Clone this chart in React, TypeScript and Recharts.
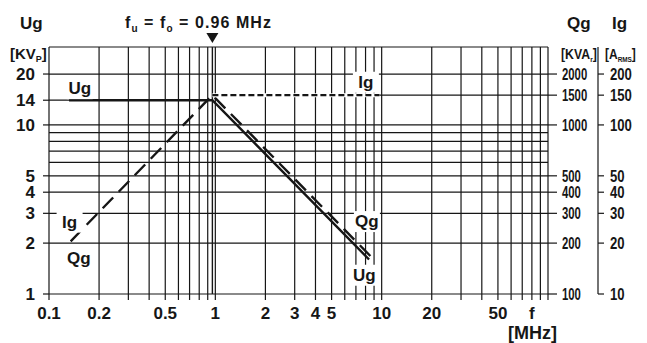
import { Line, LineChart, ReferenceDot, ReferenceLine, XAxis, YAxis } from "recharts";

const FONT = '"Liberation Sans", Arial, Helvetica, sans-serif';
const INK = "#161616";

// frequency axis [MHz], log 0.1 .. 100
const gridFreq = [
  0.1, 0.2, 0.3, 0.4, 0.5, 0.6, 0.7, 0.8, 0.9, 1, 2, 3, 4, 5, 6, 7, 8, 9, 10, 20, 30, 40, 50, 60, 70,
  80, 90, 100,
];
const freqLabelValues = [0.1, 0.2, 0.5, 1, 2, 3, 4, 5, 10, 20, 50, 80];
const freqLabelText = ["0.1", "0.2", "0.5", "1", "2", "3", "4", "5", "10", "20", "50", "f"];

// left axis Ug [kVp], right axes Qg [kVAr] and Ig [Arms]
const ugDomain = [1, 28.9];
const qgDomain = [100, 2890];
const igDomain = [10, 289];
const gridUg = [1, 2, 3, 4, 5, 6, 7, 8, 9, 10, 20, 28.9];
const ugTicks = [1, 2, 3, 4, 5, 10, 14, 20];
const qgTicks = [100, 200, 300, 400, 500, 1000, 1500, 2000];
const igTicks = [10, 20, 30, 40, 50, 100, 150, 200];

const f0 = 0.96;

// curves
const ugFreq = [0.132, 0.96, 8.4];
const ugValue = [14, 14, 1.6];
const qgFreq = [0.135, 0.96, 8.7];
const qgValue = [205, 1500, 165];
const igFreq = [0.96, 9.7];
const igValue = [150, 150];

// curve name tags
const tagText = ["Ug", "Ig", "Qg", "Ug", "Ig", "Qg"];
const tagFreq = [0.153, 8.04, 8.15, 7.87, 0.133, 0.151];
const tagUg = [16.5, 18.0, 2.7, 1.3, 2.68, 1.63];

const toPoints = (xs: number[], ys: number[]) => xs.map((f, i) => ({ f, v: ys[i] }));

const XTick = (props: any) => {
  const { x, y, payload } = props;
  const i = freqLabelValues.findIndex((v) => Math.abs(v - payload.value) < 1e-9);
  if (i < 0) return <g />;
  return (
    <text x={x} y={y + 17} textAnchor="middle" fontFamily={FONT} fontWeight={700} fontSize={17} fill={INK}>
      {freqLabelText[i]}
    </text>
  );
};

const LeftTick = (props: any) => {
  const { x, y, payload } = props;
  return (
    <text x={x} y={y + 6} textAnchor="end" fontFamily={FONT} fontWeight={700} fontSize={17} fill={INK}>
      {payload.value}
    </text>
  );
};

const RightTick = (perChar: number) => (props: any) => {
  const { x, y, payload } = props;
  const s = String(payload.value);
  return (
    <text
      x={x}
      y={y + 6}
      textAnchor="start"
      fontFamily={FONT}
      fontWeight={700}
      fontSize={16}
      fill={INK}
      textLength={s.length * perChar}
      lengthAdjust="spacingAndGlyphs"
    >
      {s}
    </text>
  );
};

const Tag = (text: string) => (props: any) => {
  const { cx, cy } = props;
  const w = text.length * 11;
  return (
    <g>
      <rect x={cx - w / 2 - 2} y={cy - 10} width={w + 4} height={21} fill="#fff" />
      <text x={cx} y={cy + 6} textAnchor="middle" fontFamily={FONT} fontWeight={700} fontSize={17} fill={INK}>
        {text}
      </text>
    </g>
  );
};

const Marker = (props: any) => {
  const { cx, cy } = props;
  return <polygon points={`${cx - 6},${cy - 14} ${cx + 6},${cy - 14} ${cx},${cy - 4}`} fill={INK} />;
};

export default function App() {
  const grid = { stroke: INK, strokeWidth: 1.2, yAxisId: "ug" };
  return (
    <div style={{ position: "absolute", left: 0, top: 0, width: 647, height: 343, background: "#fff" }}>
      <LineChart width={647} height={343} margin={{ top: 47, right: 7, bottom: 19, left: 0 }}>
        <XAxis
          dataKey="f"
          type="number"
          scale="log"
          domain={[0.1, 100]}
          allowDataOverflow
          ticks={gridFreq}
          interval={0}
          height={30}
          axisLine={false}
          tickSize={6}
          tickLine={{ stroke: INK, strokeWidth: 1.2 }}
          tick={XTick}
        />
        <YAxis
          yAxisId="ug"
          type="number"
          scale="log"
          domain={ugDomain}
          allowDataOverflow
          ticks={ugTicks}
          interval={0}
          width={49}
          axisLine={false}
          tickSize={6}
          tickMargin={8}
          tickLine={{ stroke: INK, strokeWidth: 1.2 }}
          tick={LeftTick}
        />
        <YAxis
          yAxisId="right1"
          orientation="right"
          type="number"
          scale="log"
          domain={qgDomain}
          allowDataOverflow
          ticks={qgTicks}
          interval={0}
          width={50}
          axisLine={false}
          tickSize={9}
          tickMargin={5}
          tickLine={{ stroke: INK, strokeWidth: 1.2 }}
          tick={RightTick(6.3)}
        />
        <YAxis
          yAxisId="right2"
          orientation="right"
          type="number"
          scale="log"
          domain={igDomain}
          allowDataOverflow
          ticks={igTicks}
          interval={0}
          width={42}
          axisLine={{ stroke: INK, strokeWidth: 1.2 }}
          tickSize={6}
          tickMargin={6}
          tickLine={{ stroke: INK, strokeWidth: 1.2 }}
          tick={RightTick(7.3)}
        />

        {gridUg.map((v) => (
          <ReferenceLine key={`h${v}`} y={v} {...grid} />
        ))}
        {gridFreq.map((f) => (
          <ReferenceLine key={`v${f}`} x={f} {...grid} />
        ))}
        <ReferenceLine {...grid} segment={[{ x: 0.1, y: 14 }, { x: f0, y: 14 }]} />
        <ReferenceLine {...grid} segment={[{ x: f0, y: 15 }, { x: 100, y: 15 }]} />
        <ReferenceLine x={f0} stroke={INK} strokeWidth={1.4} yAxisId="ug" />

        <Line
          yAxisId="ug"
          data={toPoints(ugFreq, ugValue)}
          dataKey="v"
          stroke={INK}
          strokeWidth={2.4}
          dot={false}
          isAnimationActive={false}
        />
        <Line
          yAxisId="right1"
          data={toPoints(qgFreq, qgValue)}
          dataKey="v"
          stroke={INK}
          strokeWidth={2.4}
          strokeDasharray="15 8"
          dot={false}
          isAnimationActive={false}
        />
        <Line
          yAxisId="right2"
          data={toPoints(igFreq, igValue)}
          dataKey="v"
          stroke="#fff"
          strokeWidth={4}
          dot={false}
          isAnimationActive={false}
        />
        <Line
          yAxisId="right2"
          data={toPoints(igFreq, igValue)}
          dataKey="v"
          stroke={INK}
          strokeWidth={2.4}
          strokeDasharray="6 3"
          dot={false}
          isAnimationActive={false}
        />

        {tagText.map((t, i) => (
          <ReferenceDot key={`t${i}`} yAxisId="ug" x={tagFreq[i]} y={tagUg[i]} shape={Tag(t)} ifOverflow="visible" />
        ))}
        <ReferenceDot yAxisId="ug" x={f0} y={ugDomain[1]} shape={Marker} ifOverflow="visible" />
      </LineChart>

      <svg
        width={647}
        height={343}
        style={{ position: "absolute", left: 0, top: 0, pointerEvents: "none" }}
        fontFamily={FONT}
        fontWeight={700}
        fill={INK}
      >
        <text x={20} y={29} fontSize={17}>Ug</text>
        <text x={10} y={59} fontSize={15}>
          [KV<tspan fontSize={9} dy={3}>P</tspan>
          <tspan dy={-3}>]</tspan>
        </text>
        <text x={125} y={28} fontSize={16} textLength={146} lengthAdjust="spacing">
          f<tspan fontSize={10} dy={4}>u</tspan>
          <tspan dy={-4}> = f</tspan>
          <tspan fontSize={10} dy={4}>o</tspan>
          <tspan dy={-4}> = 0.96 MHz</tspan>
        </text>
        <text x={567} y={29} fontSize={17}>Qg</text>
        <text x={612} y={29} fontSize={17}>Ig</text>
        <g transform="translate(561 59) scale(0.82 1)">
          <text x={0} y={0} fontSize={15}>
            [KVA<tspan fontSize={8} dy={3}>r</tspan>
            <tspan dy={-3}>]</tspan>
          </text>
        </g>
        <g transform="translate(605 59) scale(0.8 1)">
          <text x={0} y={0} fontSize={15}>
            [A<tspan fontSize={8} dy={3}>RMS</tspan>
            <tspan dy={-3}>]</tspan>
          </text>
        </g>
        <text x={508} y={339} fontSize={18}>[MHz]</text>
      </svg>
    </div>
  );
}
